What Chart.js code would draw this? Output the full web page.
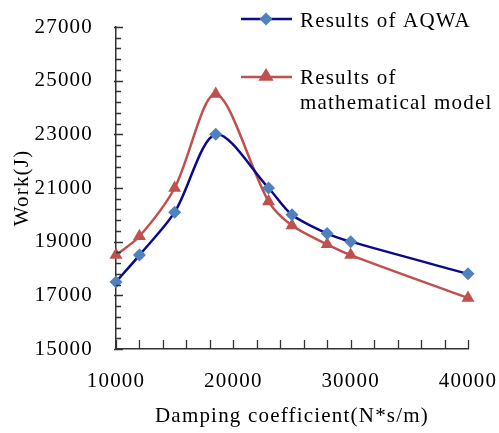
<!DOCTYPE html>
<html>
<head>
<meta charset="utf-8">
<script src="https://cdn.jsdelivr.net/npm/chart.js@4/dist/chart.umd.min.js"></script>
<style>
  html, body { margin: 0; padding: 0; background: #fff; }
  #wrap { width: 499px; height: 433px; }
</style>
</head>
<body>
<div id="wrap"><canvas id="work-chart" width="499" height="433"></canvas></div>
<script>
const dampingCoeff = [10000, 12000, 15000, 18500, 23000, 25000, 28000, 30000, 40000];
const aqwaWork = [17500, 18500, 20100, 23000, 21000, 20000, 19300, 19000, 17800];
const modelWork = [18500, 19200, 21000, 24500, 20500, 19600, 18900, 18500, 16900];

const xTicks = [10000, 20000, 30000, 40000];
const yTicks = [15000, 17000, 19000, 21000, 23000, 25000, 27000];

const seriesNames = ["Results of AQWA", ["Results of", "mathematical model"]];

const work_chart = document.getElementById("work-chart");
const serif = "'Liberation Serif', 'Times New Roman', serif";
const blueLine = "#0a0a8a";
const blueMark = "#4f81bd";
const redLine = "#c0504d";

function toPoints(xs, ys){
    let pts = [];
    for(let i = 0; i < xs.length; i++){
        pts.push({x: xs[i], y: ys[i]});
    }
    return pts;
}

// wider letters, the original text is stretched a bit
const spacingPlugin = {
    id: "spacing",
    beforeInit(chart){ chart.ctx.letterSpacing = "1.2px"; },
    beforeDraw(chart){ chart.ctx.letterSpacing = "1.2px"; }
};

// inward tick marks like the excel chart
const innerTicks = {
    id: "innerTicks",
    afterDraw(chart){
        const ctx = chart.ctx;
        const xs = chart.scales.x, ys = chart.scales.y;
        const a = chart.chartArea;
        ctx.save();
        ctx.strokeStyle = "#333";
        ctx.lineWidth = 1.3;
        ctx.beginPath();
        for(let v = 15000; v <= 27000; v += 400){
            const py = Math.round(ys.getPixelForValue(v)) + 0.5;
            const major = v % 2000 === 1000;
            ctx.moveTo(a.left - (major ? 2 : 0), py);
            ctx.lineTo(a.left + (major ? 7 : 5), py);
        }
        for(let v = 10000; v <= 40000; v += 2000){
            const px = Math.round(xs.getPixelForValue(v)) + 0.5;
            ctx.moveTo(px, a.bottom);
            ctx.lineTo(px, a.bottom - 9);
        }
        ctx.stroke();
        ctx.restore();
    }
};

function diamond(ctx, x, y, r, color){
    ctx.fillStyle = color;
    ctx.beginPath();
    ctx.moveTo(x, y - r); ctx.lineTo(x + r, y); ctx.lineTo(x, y + r); ctx.lineTo(x - r, y);
    ctx.closePath();
    ctx.fill();
}
function triangle(ctx, x, y, r, color){
    ctx.fillStyle = color;
    ctx.beginPath();
    ctx.moveTo(x, y - r); ctx.lineTo(x + r * 0.95, y + r * 0.6); ctx.lineTo(x - r * 0.95, y + r * 0.6);
    ctx.closePath();
    ctx.fill();
}

const legendBox = {
    id: "legendBox",
    afterDraw(chart){
        const ctx = chart.ctx;
        ctx.save();
        ctx.letterSpacing = "1.2px";
        ctx.lineWidth = 2.5;
        ctx.strokeStyle = blueLine;
        ctx.beginPath(); ctx.moveTo(241, 19); ctx.lineTo(292, 19); ctx.stroke();
        diamond(ctx, 266, 19, 6.5, blueMark);
        ctx.strokeStyle = redLine;
        ctx.beginPath(); ctx.moveTo(241, 77); ctx.lineTo(292, 77); ctx.stroke();
        triangle(ctx, 266, 76, 8, redLine);
        ctx.fillStyle = "#000";
        ctx.font = "21px " + serif;
        ctx.textBaseline = "alphabetic";
        ctx.textAlign = "left";
        ctx.fillText(seriesNames[0], 300, 27);
        ctx.fillText(seriesNames[1][0], 300, 84);
        ctx.fillText(seriesNames[1][1], 300, 109);
        ctx.restore();
    }
};

const tickFont = {family: serif, size: 21};

let myChart = new Chart(work_chart, {
    type: "line",
    data: {
        datasets: [{
            label: "Results of AQWA",
            data: toPoints(dampingCoeff, aqwaWork),
            borderColor: blueLine,
            backgroundColor: blueMark,
            pointBackgroundColor: blueMark,
            pointBorderColor: blueMark,
            pointBorderWidth: 0,
            pointStyle: "rectRot",
            pointRadius: 6.5,
            borderWidth: 2.5,
            tension: 0.3,
            clip: false
        }, {
            label: "Results of mathematical model",
            data: toPoints(dampingCoeff, modelWork),
            borderColor: redLine,
            backgroundColor: redLine,
            pointBackgroundColor: redLine,
            pointBorderColor: redLine,
            pointBorderWidth: 0,
            pointStyle: "triangle",
            pointRadius: 7.5,
            borderWidth: 2.5,
            tension: 0.3,
            clip: false
        }]
    },
    options: {
        responsive: false,
        animation: false,
        devicePixelRatio: 1,
        layout: {padding: {left: 0, top: 27, right: 31, bottom: 0}},
        plugins: {legend: {display: false}, tooltip: {enabled: false}},
        scales: {
            x: {
                type: "linear",
                min: 10000,
                max: 40000,
                afterBuildTicks: s => { s.ticks = xTicks.map(v => ({value: v})); },
                afterFit: s => { s.height = 84; s.paddingLeft = 0; s.paddingRight = 0; },
                grid: {display: true, drawOnChartArea: false, drawTicks: false},
                border: {display: true, color: "#333", width: 1.5},
                ticks: {color: "#000", font: tickFont, padding: 20, maxRotation: 0, callback: v => String(v)},
                title: {display: true, text: "Damping coefficient(N*s/m)", color: "#000", font: tickFont, padding: {top: 0, bottom: 4}}
            },
            y: {
                min: 15000,
                max: 27000,
                afterBuildTicks: s => { s.ticks = yTicks.map(v => ({value: v})); },
                afterFit: s => { s.width = 116; s.paddingTop = 0; s.paddingBottom = 0; },
                grid: {display: true, drawOnChartArea: false, drawTicks: false},
                border: {display: true, color: "#333", width: 1.5},
                ticks: {color: "#000", font: tickFont, padding: 23, callback: v => String(v)},
                title: {display: true, text: "Work(J)", color: "#000", font: tickFont, padding: {top: 10, bottom: 0}}
            }
        }
    },
    plugins: [spacingPlugin, innerTicks, legendBox]
});
</script>
</body>
</html>
